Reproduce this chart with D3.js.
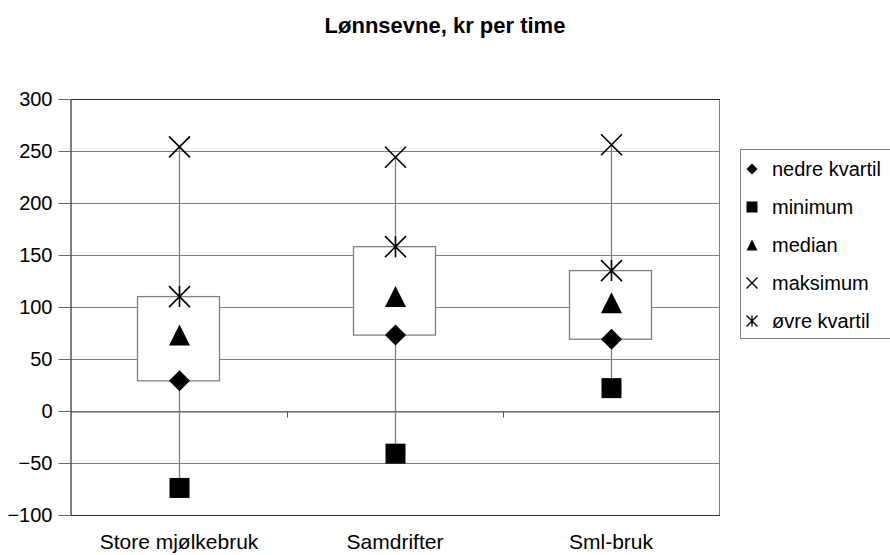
<!DOCTYPE html>
<html>
<head>
<meta charset="utf-8">
<script src="https://cdn.jsdelivr.net/npm/d3@7"></script>
<style>
  body { margin: 0; background: #fff; }
  text { font-family: Arial, "Liberation Sans", sans-serif; fill: #000; }
</style>
</head>
<body>
<main></main>
<script>
const categories = ["Store mjølkebruk", "Samdrifter", "Sml-bruk"];
const nedreKvartil = [29, 73, 69];
const minimum = [-74, -41, 22];
const median = [73, 110, 104];
const maksimum = [254, 244, 256];
const ovreKvartil = [110, 158, 135];
const yTicks = [-100, -50, 0, 50, 100, 150, 200, 250, 300];

const width = 890;
const height = 555;
const margin = { top: 99, right: 171, bottom: 40, left: 71 };

const svg = d3.select("main").append("svg").attr("width", width).attr("height", height);

const xScale = d3.scaleBand().domain(categories).range([margin.left, width - margin.right]);
const yScale = d3.scaleLinear().domain([-100, 300]).range([height - margin.bottom, margin.top]);

// marker shapes, s = full size in px
const marker = (type, s) => {
  const h = s / 2;
  const p = d3.path();
  if (type === "diamond") {
    p.moveTo(0, -h); p.lineTo(h, 0); p.lineTo(0, h); p.lineTo(-h, 0); p.closePath();
  } else if (type === "square") {
    p.rect(-h, -h, s, s);
  } else if (type === "triangle") {
    p.moveTo(0, -h); p.lineTo(h, h); p.lineTo(-h, h); p.closePath();
  } else if (type === "x") {
    p.moveTo(-h, -h); p.lineTo(h, h); p.moveTo(h, -h); p.lineTo(-h, h);
  } else {
    p.moveTo(-h, -h); p.lineTo(h, h); p.moveTo(h, -h); p.lineTo(-h, h);
    p.moveTo(0, -h); p.lineTo(0, h);
  }
  return p.toString();
};
const filled = (type) => type === "diamond" || type === "square" || type === "triangle";

const series = [
  { name: "nedre kvartil", type: "diamond", values: nedreKvartil },
  { name: "minimum", type: "square", values: minimum },
  { name: "median", type: "triangle", values: median },
  { name: "maksimum", type: "x", values: maksimum },
  { name: "øvre kvartil", type: "star", values: ovreKvartil }
];

// gridlines
svg.append("g")
  .selectAll("line")
  .data(yTicks)
  .enter()
  .append("line")
  .attr("x1", margin.left)
  .attr("x2", width - margin.right)
  .attr("y1", (d) => Math.round(yScale(d)) + 0.5)
  .attr("y2", (d) => Math.round(yScale(d)) + 0.5)
  .attr("stroke", "#808080");

// plot border
svg.append("line")
  .attr("x1", width - margin.right + 0.5).attr("x2", width - margin.right + 0.5)
  .attr("y1", margin.top).attr("y2", height - margin.bottom)
  .attr("stroke", "#808080");
[300, -100].forEach((v) => {
  svg.append("line")
    .attr("x1", margin.left).attr("x2", width - margin.right + 1)
    .attr("y1", Math.round(yScale(v)) + 0.5).attr("y2", Math.round(yScale(v)) + 0.5)
    .attr("stroke", "#333");
});

// category axis crossing at zero
const xAxis = d3.axisBottom(xScale).tickSize(0).tickFormat("");
const xAxisG = svg.append("g")
  .attr("id", "x-axis")
  .attr("transform", `translate(0, ${Math.round(yScale(0)) + 0.5})`)
  .call(xAxis);
xAxisG.select(".domain").attr("stroke", "#555");
xAxisG.selectAll(".boundary")
  .data(categories.slice(1))
  .enter()
  .append("line")
  .attr("class", "boundary")
  .attr("x1", (d) => Math.round(xScale(d)) + 0.5)
  .attr("x2", (d) => Math.round(xScale(d)) + 0.5)
  .attr("y1", 0)
  .attr("y2", 6)
  .attr("stroke", "#555");

// category labels at the bottom
svg.append("g")
  .selectAll("text")
  .data(categories)
  .enter()
  .append("text")
  .attr("x", (d) => xScale(d) + xScale.bandwidth() / 2)
  .attr("y", 549)
  .attr("text-anchor", "middle")
  .style("font-size", "21px")
  .text((d) => d);

// y axis
const yAxis = d3.axisLeft(yScale).tickValues(yTicks).tickSize(12).tickSizeOuter(0).tickPadding(6);
const yAxisG = svg.append("g")
  .attr("id", "y-axis")
  .attr("transform", `translate(${margin.left - 0.5}, 0)`)
  .call(yAxis);
yAxisG.select(".domain").attr("stroke", "#000");
yAxisG.selectAll(".tick line").attr("stroke", "#666");
yAxisG.selectAll(".tick text")
  .style("font-size", "20px")
  .style("font-family", "Arial, 'Liberation Sans', sans-serif")
  .attr("fill", "#000");

const cx = (i) => Math.round(xScale(categories[i]) + xScale.bandwidth() / 2) + 0.5;

// whiskers: minimum to maksimum
svg.append("g")
  .selectAll("line")
  .data(categories)
  .enter()
  .append("line")
  .attr("x1", (d, i) => cx(i))
  .attr("x2", (d, i) => cx(i))
  .attr("y1", (d, i) => yScale(minimum[i]))
  .attr("y2", (d, i) => yScale(maksimum[i]))
  .attr("stroke", "#808080")
  .attr("stroke-width", 1.3);

// boxes: nedre kvartil to øvre kvartil
const boxW = 82;
svg.append("g")
  .selectAll("rect")
  .data(categories)
  .enter()
  .append("rect")
  .attr("x", (d, i) => cx(i) - boxW / 2 - 1)
  .attr("width", boxW)
  .attr("y", (d, i) => yScale(ovreKvartil[i]))
  .attr("height", (d, i) => yScale(nedreKvartil[i]) - yScale(ovreKvartil[i]))
  .attr("fill", "#fff")
  .attr("stroke", "#808080")
  .attr("stroke-width", 1.3);

// markers
series.forEach((s) => {
  svg.append("g")
    .selectAll("path")
    .data(s.values)
    .enter()
    .append("path")
    .attr("transform", (v, i) => `translate(${cx(i)}, ${yScale(v)})`)
    .attr("d", marker(s.type, s.type === "square" ? 20 : 21))
    .attr("fill", filled(s.type) ? "#000" : "none")
    .attr("stroke", filled(s.type) ? "none" : "#000")
    .attr("stroke-width", 1.6);
});

// title
svg.append("text")
  .attr("x", 445)
  .attr("y", 33)
  .attr("text-anchor", "middle")
  .style("font-size", "22px")
  .style("font-weight", "bold")
  .text("Lønnsevne, kr per time");

// legend
const legend = svg.append("g").attr("id", "legend");
legend.append("rect")
  .attr("x", 740.5)
  .attr("y", 149.5)
  .attr("width", 170)
  .attr("height", 189)
  .attr("fill", "#fff")
  .attr("stroke", "#808080");

const items = legend.selectAll(".item")
  .data(series)
  .enter()
  .append("g")
  .attr("class", "item")
  .attr("transform", (d, i) => `translate(752, ${169 + i * 38})`);
items.append("path")
  .attr("d", (d) => marker(d.type, 11))
  .attr("fill", (d) => (filled(d.type) ? "#000" : "none"))
  .attr("stroke", (d) => (filled(d.type) ? "none" : "#000"))
  .attr("stroke-width", 1.4);
items.append("text")
  .attr("x", 20)
  .attr("y", 7)
  .style("font-size", "20px")
  .text((d) => d.name);
</script>
</body>
</html>
